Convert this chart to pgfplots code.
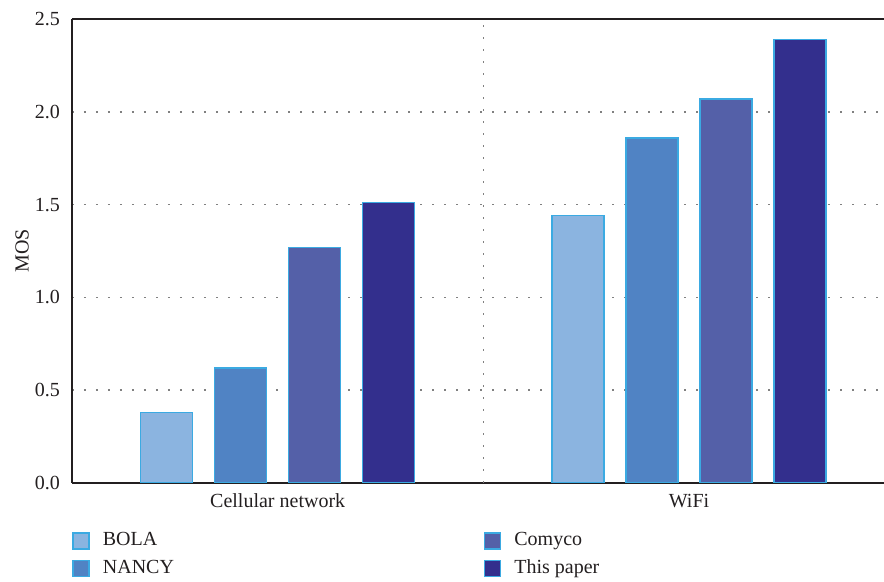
\documentclass[border=0pt]{standalone}
\usepackage{fontspec}
\setmainfont{Liberation Serif}
\usepackage{pgfplots}
\pgfplotsset{compat=1.18}
\definecolor{cBOLA}{HTML}{8BB4E0}
\definecolor{cNANCY}{HTML}{5083C4}
\definecolor{cComyco}{HTML}{5460A8}
\definecolor{cPaper}{HTML}{332F8D}
\definecolor{cEdge}{HTML}{3BAAE2}
\definecolor{cText}{HTML}{231F20}
\begin{document}
\begin{tikzpicture}[font=\fontsize{10}{12}\selectfont, text=cText]
\begin{axis}[
  name=ax,
  scale only axis,
  width=406pt, height=232pt,
  xmin=-0.5, xmax=1.474,
  ymin=0, ymax=2.5,
  axis x line=box, axis y line=left,
  axis line style={-, line width=0.8pt, draw=cText},
  major tick length=0pt,
  xtick={0,1}, xticklabels={Cellular network, WiFi},
  ytick={0,0.5,1,1.5,2,2.5},
  /pgf/number format/assume math mode=true,
  yticklabel style={/pgf/number format/fixed, /pgf/number format/fixed zerofill, /pgf/number format/precision=1, xshift=-2.5pt},
  xticklabel style={yshift=-2pt},
  ymajorgrids,
  grid style={draw=gray, line width=0.8pt, dash pattern=on 0.8pt off 5.2pt},
  extra x ticks={0.5}, extra x tick labels={},
  extra x tick style={grid=major},
  ylabel={MOS},
  every axis y label/.style={at={(axis description cs:0,0.5)}, rotate=90, anchor=center, yshift=25pt},
  ybar=11pt, bar width=26pt,
  every axis plot/.append style={draw=cEdge, line width=0.75pt},
  legend columns=2, transpose legend,
  legend style={at={(axis description cs:0,-0.105)}, anchor=north west, draw=none, fill=none,
    inner sep=0pt, column sep=0pt, row sep=5pt,
    nodes={inner sep=0pt, anchor=west},
    /tikz/every odd column/.append style={column sep=6.5pt}},
  legend image code/.code={\draw[#1] (0pt,-4pt) rectangle (8pt,4pt);},
]
\addplot[fill=cBOLA] coordinates {(0,0.38) (1,1.44)};
\addlegendentry{\makebox[190.5pt][l]{BOLA}}
\addplot[fill=cNANCY] coordinates {(0,0.62) (1,1.86)};
\addlegendentry{\makebox[190.5pt][l]{NANCY}}
\addplot[fill=cComyco] coordinates {(0,1.27) (1,2.07)};
\addlegendentry{Comyco}
\addplot[fill=cPaper] coordinates {(0,1.51) (1,2.39)};
\addlegendentry{This paper}
\end{axis}
\pgfresetboundingbox
\path ([xshift=-36pt,yshift=-49.5pt]ax.south west) rectangle ([yshift=9.5pt]ax.north east);
\end{tikzpicture}
\end{document}
